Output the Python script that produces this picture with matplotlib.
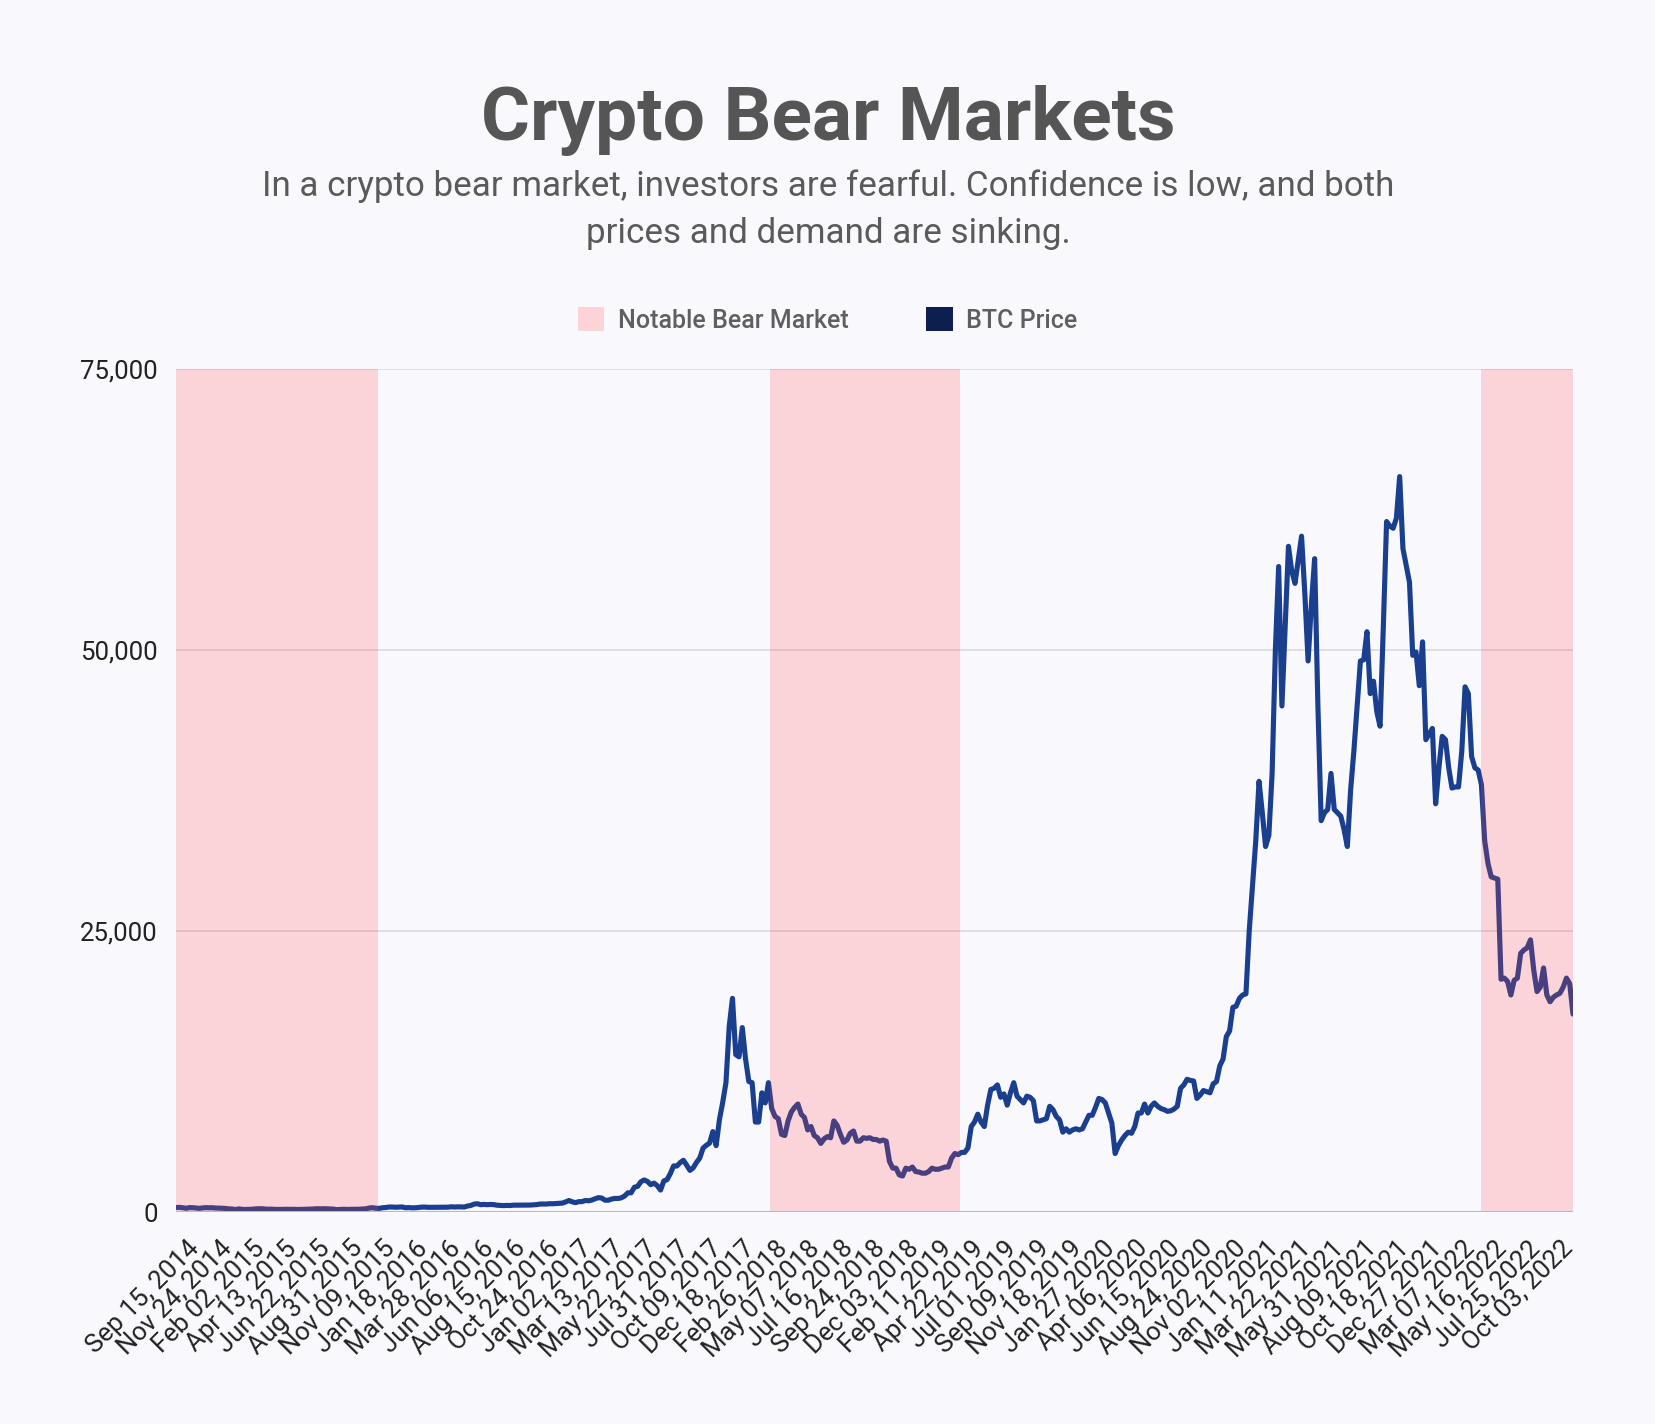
import numpy as np
import pandas as pd
import matplotlib
matplotlib.use("Agg")
import matplotlib.pyplot as plt
from matplotlib.patches import Patch
from matplotlib.transforms import ScaledTranslation

# ---------------- data (weekly BTC price, weeks starting Sep 15, 2014) ----------------
start_date = "2014-09-15"

prices_2014 = [400, 410, 375, 330, 390, 380, 355, 325, 365, 385, 375, 380, 350, 345, 330, 315]
prices_2015 = [275, 270, 210, 275, 240, 220, 235, 240, 275, 290, 290, 265, 245,
               255, 235, 225, 230, 240, 242, 233, 240, 222, 228, 237, 245, 257,
               270, 292, 278, 293, 282, 265, 257, 210, 228, 240, 230, 230, 239,
               240, 247, 266, 285, 360, 380, 330, 323, 378, 395, 445, 440, 422]
prices_2016 = [433, 448, 380, 392, 372, 375, 400, 437, 437, 414, 415, 411, 424,
               420, 422, 428, 462, 444, 460, 454, 444, 531, 585, 704, 735, 648,
               676, 650, 672, 655, 606, 590, 567, 585, 575, 606, 608, 610, 606,
               612, 617, 638, 653, 700, 712, 705, 738, 733, 754, 780, 791, 900]
prices_2017 = [1020, 903, 830, 921, 920, 1024, 996, 1060, 1180, 1275, 1243, 1050, 1045,
               1145, 1210, 1200, 1260, 1420, 1700, 1710, 2200, 2280, 2690, 2850, 2715, 2430,
               2570, 2340, 1950, 2760, 2880, 3420, 4100, 4090, 4390, 4600, 4160, 3700, 3930,
               4410, 4800, 5680, 5930, 6130, 7150, 5900, 8200, 9730, 11500, 16500, 19000, 14000]
prices_2018 = [13800, 16400, 13600, 11600, 11500, 8000, 8000, 10600, 9700, 11500, 9200, 8500, 8300,
               6900, 6800, 8100, 8900, 9300, 9600, 8700, 8400, 7300, 7600, 6800, 6600, 6100,
               6500, 6700, 6600, 8100, 7700, 6900, 6200, 6400, 7000, 7200, 6300, 6300, 6600,
               6550, 6600, 6450, 6450, 6300, 6400, 6300, 4500, 3900, 3900, 3300, 3200, 3900, 3800]
prices_2019 = [4000, 3600, 3550, 3450, 3450, 3600, 3900, 3800, 3800, 3900, 4000, 4000,
               4800, 5200, 5100, 5300, 5300, 5700, 7600, 8000, 8700, 8000, 7600, 9500, 10900,
               11000, 11300, 10200, 10500, 9500, 10600, 11500, 10300, 10000, 9700, 10300, 10200,
               9900, 8100, 8100, 8200, 8300, 9400, 9100, 8500, 8200, 7100, 7400, 7100, 7300, 7400, 7300]
prices_2020 = [7400, 8000, 8600, 8600, 9300, 10100, 10000, 9700, 8800, 7900, 5200, 5900, 6400,
               6800, 7100, 7000, 7600, 8800, 8800, 9600, 8800, 9400, 9700, 9400, 9200, 9100,
               8950, 9000, 9150, 9400, 11000, 11300, 11800, 11700, 11650, 10100, 10400, 10800,
               10700, 10600, 11400, 11600, 13000, 13600, 15600, 16100, 18200, 18300, 19000, 19300,
               19400, 25000]
prices_2021 = [29000, 33000, 38300, 35500, 32500, 33500, 39000, 50000, 57400, 45000, 52000, 59200,
               57000, 55900, 58000, 60100, 55000, 49000, 54000, 58100, 45000, 34800, 35500, 35800,
               39000, 35800, 35500, 35200, 34000, 32500, 37500, 41000, 45000, 49000, 49100, 51600,
               46100, 47200, 44500, 43200, 52000, 61400, 61000, 60800, 61700, 65400, 59000, 57500,
               56000, 49500, 49800, 46800]
prices_2022 = [50700, 42000, 42500, 43000, 36300, 39500, 42300, 42000, 39500, 37700, 37800, 37800,
               41000, 46700, 46100, 40500, 39500, 39300, 38000, 33000, 31000, 29800, 29700, 29600,
               20700, 20800, 20500, 19300, 20600, 20800, 23000, 23300, 23500, 24200, 21500, 19600,
               20000, 21700, 19300, 18700, 19100, 19300, 19450, 20000, 20800, 20300, 17600]

btc_price = (prices_2014 + prices_2015 + prices_2016 + prices_2017 + prices_2018
             + prices_2019 + prices_2020 + prices_2021 + prices_2022)

bear_starts = ["2014-09-15", "2018-03-08", "2022-05-08"]
bear_ends = ["2015-11-20", "2019-04-18", "2022-11-21"]

tick_labels = ["Sep 15, 2014", "Nov 24, 2014", "Feb 02, 2015", "Apr 13, 2015", "Jun 22, 2015",
               "Aug 31, 2015", "Nov 09, 2015", "Jan 18, 2016", "Mar 28, 2016", "Jun 06, 2016",
               "Aug 15, 2016", "Oct 24, 2016", "Jan 02, 2017", "Mar 13, 2017", "May 22, 2017",
               "Jul 31, 2017", "Oct 09, 2017", "Dec 18, 2017", "Feb 26, 2018", "May 07, 2018",
               "Jul 16, 2018", "Sep 24, 2018", "Dec 03, 2018", "Feb 11, 2019", "Apr 22, 2019",
               "Jul 01, 2019", "Sep 09, 2019", "Nov 18, 2019", "Jan 27, 2020", "Apr 06, 2020",
               "Jun 15, 2020", "Aug 24, 2020", "Nov 02, 2020", "Jan 11, 2021", "Mar 22, 2021",
               "May 31, 2021", "Aug 09, 2021", "Oct 18, 2021", "Dec 27, 2021", "Mar 07, 2022",
               "May 16, 2022", "Jul 25, 2022", "Oct 03, 2022"]
y_ticks = [0, 25000, 50000, 75000]

# ---------------- figure ----------------
BG = "#f9f9fd"
W, H = 1656, 1424
fig = plt.figure(figsize=(W / 100, H / 100), dpi=100, facecolor=BG)
ax = fig.add_axes([176.5 / W, 212 / H, (1573 - 176.5) / W, (1212 - 368.6) / H])
ax.set_facecolor(BG)

t0 = pd.Timestamp(start_date)
def week_pos(d):
    return (pd.Timestamp(d) - t0).days / 7.0

x = np.arange(len(btc_price))
ax.plot(x, btc_price, color="#1b3f8f", lw=3.7, solid_joinstyle="round",
        solid_capstyle="round", zorder=2)

for s, e in zip(bear_starts, bear_ends):
    ax.axvspan(week_pos(s), week_pos(e), color=(1.0, 0.25, 0.27), alpha=0.2, lw=0, zorder=3)

ax.set_xlim(0, len(btc_price) - 1)
ax.set_ylim(y_ticks[0], y_ticks[-1])
ax.set_yticks(y_ticks)
ax.set_yticklabels([f"{v:,}" for v in y_ticks], fontfamily="Roboto", fontsize=18.5, color="#222222")
ax.yaxis.grid(True, color="#d7d7dc", lw=1.1, zorder=0)
ax.axhline(0, color="#b9b9bd", lw=2.2, zorder=4)
for sp in ax.spines.values():
    sp.set_visible(False)
ax.tick_params(axis="both", length=0)
ax.tick_params(axis="y", pad=13.5)

tick_pos = np.arange(len(tick_labels)) * 10
ax.set_xticks(tick_pos)
ax.set_xticklabels(tick_labels, rotation=45, ha="right", va="top", rotation_mode="anchor",
                   fontfamily="Roboto", fontsize=18.5, color="#222222")
ax.tick_params(axis="x", pad=8)
shift = ScaledTranslation(10 / 100, -13 / 100, fig.dpi_scale_trans)
for lab in ax.get_xticklabels():
    lab.set_transform(lab.get_transform() + shift)

# title / subtitle
fig.text(0.5, 1 - 120 / H, "Crypto Bear Markets", ha="center", va="center",
         fontfamily="Roboto", fontweight="bold", fontsize=54, color="#555555")
fig.text(0.5, 1 - 186 / H, "In a crypto bear market, investors are fearful. Confidence is low, and both",
         ha="center", va="center", fontfamily="Roboto", fontsize=25.2, color="#5a5a5a")
fig.text(0.5, 1 - 233 / H, "prices and demand are sinking.",
         ha="center", va="center", fontfamily="Roboto", fontsize=25.2, color="#5a5a5a")

handles = [Patch(facecolor="#fcd4d8", edgecolor="none", label="Notable Bear Market"),
           Patch(facecolor="#0d1f4f", edgecolor="none", label="BTC Price")]
leg = fig.legend(handles=handles, loc="center", bbox_to_anchor=(0.5, 1 - 320 / H), ncol=2,
                 frameon=False, prop={"family": "Roboto", "weight": "medium", "size": 18},
                 handlelength=1.05, handleheight=1.05, handletextpad=0.55, columnspacing=3.1)
for t in leg.get_texts():
    t.set_color("#5f5f5f")

fig.savefig("out.png", dpi=100, facecolor=BG)
